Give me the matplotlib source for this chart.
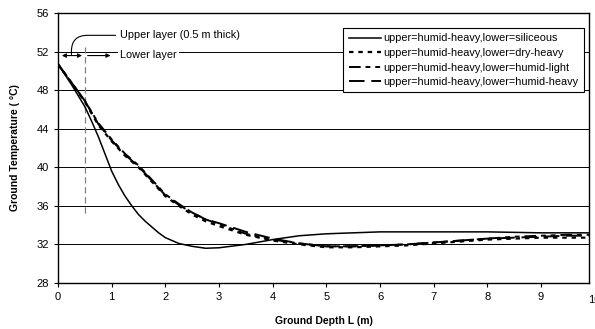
import matplotlib.pyplot as plt
from matplotlib.patches import FancyArrowPatch

plt.rcParams['font.family'] = ['Liberation Sans', 'DejaVu Sans']

depth = [0, 0.25, 0.5, 0.75, 1.0, 1.25, 1.5, 1.75, 2.0, 2.25, 2.5, 2.75, 3.0, 3.5, 4.0,
         4.5, 5.0, 5.5, 6.0, 6.5, 7.0, 7.5, 8.0, 8.5, 9.0, 9.5, 9.9]

# finer sampling for the siliceous curve (steeper bend)
depth_s = [0, 0.25, 0.5, 0.625, 0.75, 0.875, 1.0, 1.125, 1.25, 1.375, 1.5, 1.625, 1.75, 1.875,
           2.0, 2.25, 2.5, 2.75, 3.0, 3.5, 4.0, 4.5, 5.0, 5.5, 6.0, 7.0, 8.0, 9.0, 9.9]
siliceous = [50.7, 48.6, 46.3, 44.8, 43.2, 41.4, 39.6, 38.2, 37.0, 36.0, 35.1, 34.4, 33.8, 33.2,
             32.7, 32.1, 31.8, 31.6, 31.65, 32.0, 32.5, 32.9, 33.1, 33.2, 33.3, 33.3, 33.3, 33.2, 33.2]
dry_heavy = [50.7, 48.8, 46.8, 44.4, 42.7, 41.2, 40.0, 38.5, 37.0, 36.0, 35.1, 34.4, 33.9,
             33.0, 32.4, 32.0, 31.7, 31.7, 31.8, 31.9, 32.1, 32.3, 32.5, 32.6, 32.7, 32.7, 32.7]
humid_light = [50.7, 48.8, 46.9, 44.6, 42.9, 41.4, 40.2, 38.7, 37.2, 36.2, 35.3, 34.6, 34.1,
               33.1, 32.5, 32.1, 31.8, 31.8, 31.9, 32.0, 32.2, 32.4, 32.6, 32.8, 32.9, 33.0, 33.0]
humid_heavy = [50.7, 48.8, 46.9, 44.5, 42.8, 41.3, 40.1, 38.6, 37.1, 36.1, 35.3, 34.6, 34.2,
               33.3, 32.6, 32.1, 31.8, 31.8, 31.9, 32.0, 32.2, 32.4, 32.6, 32.7, 32.8, 32.9, 32.9]

labels = ['upper=humid-heavy,lower=siliceous',
          'upper=humid-heavy,lower=dry-heavy',
          'upper=humid-heavy,lower=humid-light',
          'upper=humid-heavy,lower=humid-heavy']

fig = plt.figure(figsize=(5.95, 3.29), dpi=100)
ax = fig.add_axes([0.0975, 0.140, 0.893, 0.820])

for y in [32, 36, 40, 44, 48, 52]:
    ax.axhline(y, color='black', lw=0.7, zorder=0)

ax.plot(depth_s, siliceous, color='black', lw=1.1, ls='-', label=labels[0])
ax.plot(depth, dry_heavy, color='black', lw=1.6, ls=(0, (2, 2.2)), label=labels[1])
ax.plot(depth, humid_light, color='black', lw=1.4, ls=(0, (6, 2.5, 2.5, 2.5, 2.5, 2.5)), label=labels[2])
ax.plot(depth, humid_heavy, color='black', lw=1.4, ls=(0, (8, 3.5)), label=labels[3])

ax.set_xlim(0, 9.9)
ax.set_ylim(28, 56)
ax.set_xticks(range(0, 10))
ax.set_yticks(range(28, 57, 4))
ax.text(10, 28 - 1.2, '10', ha='center', va='top', fontsize=8, clip_on=False)
ax.tick_params(direction='out', length=3, width=0.8, labelsize=8)
for s in ax.spines.values():
    s.set_linewidth(1.0)

ax.set_xlabel('Ground Depth L (m)', fontsize=7.5, fontweight='bold', labelpad=10)
ax.set_ylabel('Ground Temperature ( °C)', fontsize=7.5, fontweight='bold', labelpad=12)

# layer annotation
ax.plot([0.5, 0.5], [35.3, 52.5], color='gray', lw=0.9, ls=(0, (5, 3)), zorder=1)
ax.add_patch(FancyArrowPatch((0.02, 51.6), (0.5, 51.6), arrowstyle='<|-|>', mutation_scale=6,
                             color='black', lw=0.8))
ax.add_patch(FancyArrowPatch((0.5, 51.6), (1.03, 51.6), arrowstyle='-|>', mutation_scale=6,
                             color='black', lw=0.8))
ax.annotate('', xy=(0.25, 51.7), xytext=(1.07, 53.7),
            arrowprops=dict(arrowstyle='-', connectionstyle='angle,angleA=0,angleB=90,rad=16',
                            color='black', lw=0.8, shrinkA=0, shrinkB=0))
ax.text(1.16, 53.7, 'Upper layer (0.5 m thick)', fontsize=7.8, va='center',
        bbox=dict(facecolor='white', edgecolor='none', pad=0.5))
ax.text(1.16, 51.7, 'Lower layer', fontsize=7.8, va='center',
        bbox=dict(facecolor='white', edgecolor='none', pad=1.5))

leg = ax.legend(loc='upper right', bbox_to_anchor=(0.99, 0.945), fontsize=7.8, frameon=True,
                fancybox=False, edgecolor='black', framealpha=1, handlelength=3.0,
                handletextpad=0.2, borderpad=0.5, labelspacing=0.42, borderaxespad=0)
leg.get_frame().set_linewidth(0.8)

fig.savefig('out.png', dpi=100)
